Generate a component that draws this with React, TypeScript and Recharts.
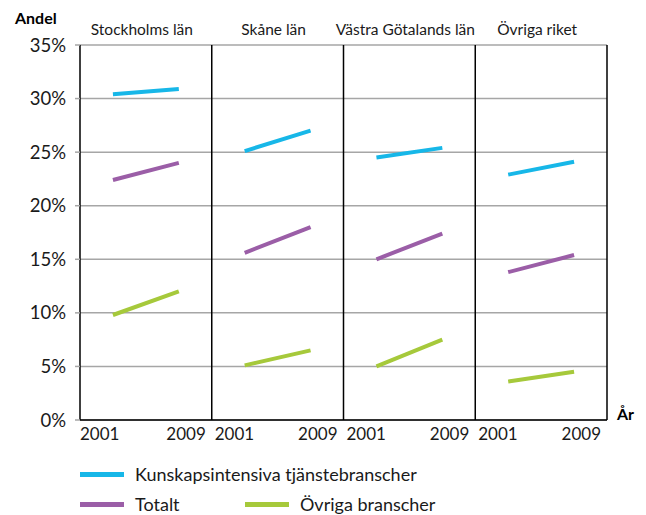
import { LineChart, Line, XAxis, YAxis, CartesianGrid, ReferenceLine } from 'recharts';

// Regions and years shown in each panel
const panels = ['Stockholms län', 'Skåne län', 'Västra Götalands län', 'Övriga riket'];
const years = [2001, 2009];
const yTicks = [0, 5, 10, 15, 20, 25, 30, 35];

// Share (%) per region, [2001, 2009]
const kunskap = [[30.4, 30.9], [25.1, 27.0], [24.5, 25.4], [22.9, 24.1]];
const totalt = [[22.4, 24.0], [15.6, 18.0], [15.0, 17.4], [13.8, 15.4]];
const ovriga = [[9.8, 12.0], [5.1, 6.5], [5.0, 7.5], [3.6, 4.5]];

const FONT = 'Lato, "Open Sans", sans-serif';
const SPAN = 16; // years per panel
const START = 1997;

const rows: any[] = [];
panels.forEach((_, i) => {
  years.forEach((yr, j) => {
    rows.push({ x: i * SPAN + (yr - START), k: kunskap[i][j], t: totalt[i][j], o: ovriga[i][j] });
  });
  if (i < panels.length - 1) rows.push({ x: i * SPAN + SPAN - 1, k: null, t: null, o: null });
});

const edges = panels.map((_, i) => i * SPAN).concat(panels.length * SPAN);
const centers = panels.map((_, i) => i * SPAN + SPAN / 2);

const YearTick = (props: any) => {
  const { x, y, payload } = props;
  const v = payload.value;
  const style = { fontFamily: FONT, fontSize: 17, fill: '#1a1a1a' };
  return (
    <g>
      {v > 0 && (
        <text x={x - 6} y={y + 12} textAnchor="end" {...style}>{years[1]}</text>
      )}
      {v < panels.length * SPAN && (
        <text x={x + (v === 0 ? 0 : 3)} y={y + 12} textAnchor="start" {...style}>{years[0]}</text>
      )}
    </g>
  );
};

const TitleTick = (props: any) => {
  const { x, y, payload } = props;
  const idx = centers.indexOf(payload.value);
  return (
    <text x={x - 4} y={y - 2} textAnchor="middle" fontFamily={FONT} fontSize={15.5} fill="#1a1a1a">
      {panels[idx]}
    </text>
  );
};

const LegendItem = ({ color, label, left, top }: any) => (
  <div style={{ position: 'absolute', left, top, display: 'flex', alignItems: 'center' }}>
    <div style={{ width: 44, height: 5, background: color, marginRight: 11 }} />
    <span style={{ fontFamily: FONT, fontSize: 18, color: '#1a1a1a', whiteSpace: 'nowrap' }}>{label}</span>
  </div>
);

const App = () => {
  return (
    <div style={{ position: 'relative', width: 646, height: 515, background: '#fff' }}>
      <style>{`body{margin:0}`}</style>
      <div style={{ position: 'absolute', left: 15, top: 8, fontFamily: FONT, fontWeight: 700, fontSize: 16 }}>Andel</div>
      <div style={{ position: 'absolute', left: 617, top: 404, fontFamily: FONT, fontWeight: 700, fontSize: 16 }}>År</div>
      <LineChart
        width={646}
        height={450}
        data={rows}
        margin={{ top: 20, right: 39, left: 0, bottom: 0 }}
      >
        <CartesianGrid vertical={false} stroke="#a6a6a6" strokeWidth={1.5} />
        <XAxis
          dataKey="x"
          type="number"
          domain={[0, panels.length * SPAN]}
          ticks={edges}
          tick={<YearTick />}
          tickLine={false}
          axisLine={{ stroke: '#000', strokeWidth: 1.5 }}
          height={30}
        />
        <XAxis
          xAxisId="top"
          orientation="top"
          type="number"
          dataKey="x"
          domain={[0, panels.length * SPAN]}
          ticks={centers}
          tick={<TitleTick />}
          tickLine={false}
          axisLine={false}
          height={25}
        />
        <YAxis
          domain={[0, 35]}
          ticks={yTicks}
          tickFormatter={(v) => `${v}%`}
          tick={{ fontFamily: FONT, fontSize: 18.5, fill: '#1a1a1a' }}
          tickLine={{ stroke: '#a6a6a6', strokeWidth: 1.5 }}
          tickSize={5}
          tickMargin={9}
          axisLine={{ stroke: '#000', strokeWidth: 1.5 }}
          width={80}
        />
        {edges.slice(1).map((e) => (
          <ReferenceLine key={e} x={e} stroke="#000" strokeWidth={1.5} />
        ))}
        <Line type="linear" dataKey="k" stroke="#17b7e8" strokeWidth={4} dot={false} isAnimationActive={false} />
        <Line type="linear" dataKey="t" stroke="#9b5ea7" strokeWidth={4} dot={false} isAnimationActive={false} />
        <Line type="linear" dataKey="o" stroke="#a6c93b" strokeWidth={4} dot={false} isAnimationActive={false} />
      </LineChart>
      <LegendItem color="#17b7e8" label="Kunskapsintensiva tjänstebranscher" left={80} top={463} />
      <LegendItem color="#9b5ea7" label="Totalt" left={80} top={493} />
      <LegendItem color="#a6c93b" label="Övriga branscher" left={245} top={493} />
    </div>
  );
};

export default App;
